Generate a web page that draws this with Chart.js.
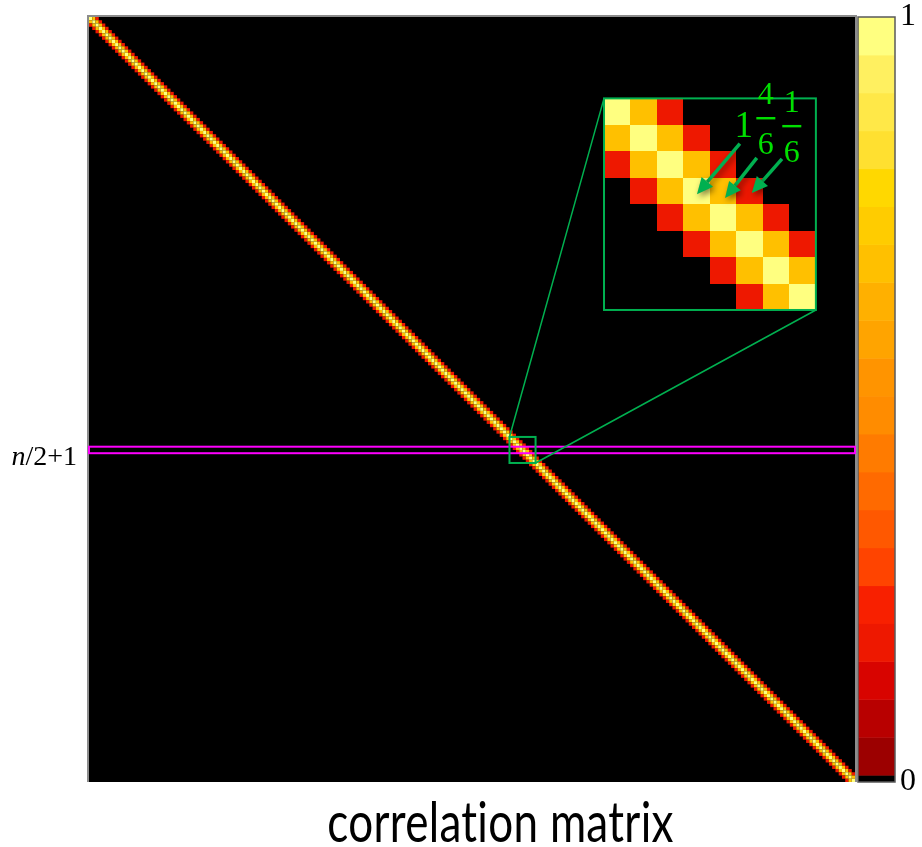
<!DOCTYPE html>
<html>
<head>
<meta charset="utf-8">
<title>correlation matrix</title>
<script src="https://cdn.jsdelivr.net/npm/chart.js@4.4.1/dist/chart.umd.min.js"></script>
<style>
  html, body { margin: 0; padding: 0; background: #fff; }
  #wrap { position: relative; width: 922px; height: 847px; }
</style>
</head>
<body>
<div id="wrap"><canvas id="corr" width="922" height="847"></canvas></div>
<script>
// ----------------------------
// matrix data
// ----------------------------

const matrixSize = 235;                 // n
const bandValues = [1, 4/6, 1/6];       // correlation for |i-j| = 0, 1, 2
const highlightRows = [132, 134];       // the row n/2+1 (outlined in magenta)
const zoomStart = 129;                  // first row/col of the magnified block
const zoomSize = 8;
const insetBox = { col: 158, row: 25, span: 65 };   // magnified block, in matrix units

// colour levels from 0 (bottom) to 1 (top)
const levelColors = [
  "#9c0000", "#b80000", "#d80400", "#ee1800", "#f82000",
  "#ff4400", "#ff5800", "#ff6a00", "#ff7b00", "#ff8c00",
  "#ff9400", "#ffa400", "#ffb000", "#ffc000", "#ffcc00",
  "#ffd800", "#ffe030", "#ffe848", "#fff060", "#ffff80"
];
const colorbarTicks = [0, 1];
const zeroStrip = 0.009;                // black strip for exact zero

const titleText = "correlation matrix";

// inset annotations, in inset cell units
const insetNumbers = [ { text: "1", x: 5.28, y: 1.47 } ];
const insetFractions = [
  { num: "4", den: "6", x: 6.11, y: 0.75 },
  { num: "1", den: "6", x: 7.09, y: 1.05 }
];
const insetArrows = [
  { from: [5.13, 1.71], to: [3.51, 3.62] },
  { from: [5.77, 2.25], to: [4.57, 3.77] },
  { from: [6.72, 2.29], to: [5.58, 3.58] }
];

// ----------------------------
// helpers
// ----------------------------

function levelColor(v) {
  if (v <= 0) return "#000";
  const k = Math.min(levelColors.length - 1, Math.floor(v * levelColors.length));
  return levelColors[k];
}

function cellValue(r, c) {
  const d = Math.abs(r - c);
  return d < bandValues.length ? bandValues[d] : 0;
}

function fillCell(ctx, xs, ys, col, row, v, snap) {
  const px = p => (snap ? Math.round(p) : p);
  const x0 = px(xs.getPixelForValue(col));
  const x1 = px(xs.getPixelForValue(col + 1));
  const y0 = px(ys.getPixelForValue(row));
  const y1 = px(ys.getPixelForValue(row + 1));
  ctx.fillStyle = levelColor(v);
  ctx.fillRect(x0, Math.min(y0, y1), x1 - x0, Math.abs(y1 - y0));
}

function boxPx(xs, ys, c0, r0, c1, r1) {
  const x0 = xs.getPixelForValue(c0), x1 = xs.getPixelForValue(c1);
  const y0 = ys.getPixelForValue(r0), y1 = ys.getPixelForValue(r1);
  return { x: x0, y: Math.min(y0, y1), w: x1 - x0, h: Math.abs(y1 - y0) };
}

function arrow(ctx, x0, y0, x1, y1) {
  const ang = Math.atan2(y1 - y0, x1 - x0);
  const head = 16, half = 7.5;
  const bx = x1 - head * Math.cos(ang), by = y1 - head * Math.sin(ang);
  ctx.beginPath();
  ctx.moveTo(x0, y0);
  ctx.lineTo(bx, by);
  ctx.stroke();
  ctx.beginPath();
  ctx.moveTo(x1, y1);
  ctx.lineTo(bx + half * Math.sin(ang), by - half * Math.cos(ang));
  ctx.lineTo(bx - half * Math.sin(ang), by + half * Math.cos(ang));
  ctx.closePath();
  ctx.fill();
}

// ----------------------------
// drawing plugin
// ----------------------------

const matrixPlugin = {
  id: "matrix",
  beforeDatasetsDraw(chart) {
    const { ctx, chartArea: a } = chart;
    const { x, y, ix, iy, cb } = chart.scales;
    const green = "#00b050";

    ctx.save();

    // background
    ctx.fillStyle = "#000";
    ctx.fillRect(a.left, a.top, a.width, a.height);

    // band cells
    for (let i = 0; i < matrixSize; i++) {
      for (let d = -(bandValues.length - 1); d < bandValues.length; d++) {
        const j = i + d;
        if (j < 0 || j >= matrixSize) continue;
        fillCell(ctx, x, y, j, i, cellValue(i, j), false);
      }
    }

    // frame
    ctx.strokeStyle = "#8c8c8c";
    ctx.lineWidth = 2;
    ctx.beginPath();
    ctx.moveTo(a.left - 1, a.bottom);
    ctx.lineTo(a.left - 1, a.top - 1);
    ctx.lineTo(a.right + 1, a.top - 1);
    ctx.lineTo(a.right + 1, a.bottom);
    ctx.stroke();

    // row n/2+1
    const hr = boxPx(x, y, 0, highlightRows[0], matrixSize, highlightRows[1]);
    ctx.strokeStyle = "#ff00ff";
    ctx.lineWidth = 2;
    ctx.strokeRect(hr.x, hr.y, hr.w, hr.h);

    ctx.fillStyle = "#000";
    ctx.textBaseline = "alphabetic";
    ctx.font = "28px 'Liberation Serif'";
    const rest = "/2+1";
    const restW = ctx.measureText(rest).width;
    const labelY = hr.y + hr.h / 2 + 15;
    ctx.textAlign = "right";
    ctx.fillText(rest, a.left - 12, labelY);
    ctx.font = "italic 28px 'Liberation Serif'";
    ctx.fillText("n", a.left - 12 - restW, labelY);

    // zoom box and connectors
    const zb = boxPx(x, y, zoomStart, zoomStart, zoomStart + zoomSize, zoomStart + zoomSize);
    const ib = boxPx(x, y, insetBox.col, insetBox.row,
                     insetBox.col + insetBox.span, insetBox.row + insetBox.span);
    ctx.strokeStyle = green;
    ctx.lineWidth = 1.5;
    ctx.beginPath();
    ctx.moveTo(zb.x, zb.y);
    ctx.lineTo(ib.x, ib.y);
    ctx.moveTo(zb.x + zb.w, zb.y + zb.h);
    ctx.lineTo(ib.x + ib.w, ib.y + ib.h);
    ctx.stroke();
    ctx.lineWidth = 2;
    ctx.strokeRect(zb.x, zb.y, zb.w, zb.h);

    // magnified block
    ctx.fillStyle = "#000";
    ctx.fillRect(ib.x, ib.y, ib.w, ib.h);
    for (let r = 0; r < zoomSize; r++) {
      for (let c = 0; c < zoomSize; c++) {
        const v = cellValue(zoomStart + r, zoomStart + c);
        if (v > 0) fillCell(ctx, ix, iy, c, r, v, true);
      }
    }
    ctx.strokeStyle = green;
    ctx.lineWidth = 2;
    ctx.strokeRect(ib.x, ib.y, ib.w, ib.h);

    // values inside the inset
    ctx.fillStyle = "#00e000";
    ctx.textAlign = "center";
    ctx.font = "37px 'Liberation Serif'";
    insetNumbers.forEach(n => {
      ctx.fillText(n.text, ix.getPixelForValue(n.x), iy.getPixelForValue(n.y));
    });
    ctx.font = "32px 'Liberation Serif'";
    insetFractions.forEach(f => {
      const fx = ix.getPixelForValue(f.x), fy = iy.getPixelForValue(f.y);
      ctx.fillText(f.num, fx, fy - 14);
      ctx.fillText(f.den, fx, fy + 36);
      ctx.fillRect(fx - 9.5, fy - 1.2, 19, 2.4);
    });

    ctx.save();
    ctx.strokeStyle = green;
    ctx.fillStyle = green;
    ctx.lineWidth = 3.5;
    ctx.shadowColor = "rgba(0,0,0,0.5)";
    ctx.shadowBlur = 6;
    ctx.shadowOffsetX = 2;
    ctx.shadowOffsetY = 3;
    insetArrows.forEach(ar => {
      arrow(ctx,
        ix.getPixelForValue(ar.from[0]), iy.getPixelForValue(ar.from[1]),
        ix.getPixelForValue(ar.to[0]), iy.getPixelForValue(ar.to[1]));
    });
    ctx.restore();

    // colour bar
    const bx0 = a.right + 3, bx1 = a.right + 40;
    const step = (1 - zeroStrip) / levelColors.length;
    ctx.fillStyle = "#000";
    ctx.fillRect(bx0, cb.getPixelForValue(zeroStrip), bx1 - bx0,
                 cb.getPixelForValue(0) - cb.getPixelForValue(zeroStrip));
    levelColors.forEach((col, k) => {
      const lo = cb.getPixelForValue(zeroStrip + k * step);
      const hi = cb.getPixelForValue(zeroStrip + (k + 1) * step);
      ctx.fillStyle = col;
      ctx.fillRect(bx0, hi, bx1 - bx0, lo - hi + 0.5);
    });
    ctx.strokeStyle = "#5a5a5a";
    ctx.lineWidth = 1.5;
    ctx.strokeRect(bx0, cb.getPixelForValue(1), bx1 - bx0, cb.getPixelForValue(0) - cb.getPixelForValue(1));

    // caption under the matrix (drawn slightly tall)
    ctx.save();
    ctx.fillStyle = "#000";
    ctx.textAlign = "center";
    ctx.textBaseline = "alphabetic";
    ctx.font = "44px Lato";
    ctx.letterSpacing = "0.3px";
    ctx.translate((a.left + chart.width) / 2 - 5, a.bottom + 60);
    ctx.scale(1, 1.28);
    ctx.fillText(titleText, 0, 0);
    ctx.restore();

    ctx.restore();
  }
};

// ----------------------------
// chart
// ----------------------------

const k = zoomSize / insetBox.span;

new Chart(document.getElementById("corr"), {
  type: "scatter",
  data: { datasets: [] },
  options: {
    responsive: false,
    animation: false,
    layout: { padding: { left: 89, top: 17, right: 0, bottom: 65 } },
    scales: {
      x: { type: "linear", min: 0, max: matrixSize, display: false },
      y: { type: "linear", min: 0, max: matrixSize, reverse: true, display: false },
      ix: { axis: "x", type: "linear", display: false,
            min: -insetBox.col * k, max: (matrixSize - insetBox.col) * k },
      iy: { axis: "y", type: "linear", display: false, reverse: true,
            min: -insetBox.row * k, max: (matrixSize - insetBox.row) * k },
      cb: {
        axis: "y", type: "linear", position: "right", min: 0, max: 1,
        grid: { display: false, drawTicks: false },
        border: { display: false },
        afterBuildTicks: s => { s.ticks = colorbarTicks.map(v => ({ value: v })); },
        afterFit: s => { s.width = 67; s.paddingTop = 0; s.paddingBottom = 0; },
        ticks: {
          autoSkip: false,
          padding: 45,
          color: "#000",
          font: { family: "'Liberation Serif'", size: 32 },
          callback: v => String(v)
        }
      }
    },
    plugins: {
      legend: { display: false },
      tooltip: { enabled: false },
      title: { display: false }
    }
  },
  plugins: [matrixPlugin]
});
</script>
</body>
</html>
